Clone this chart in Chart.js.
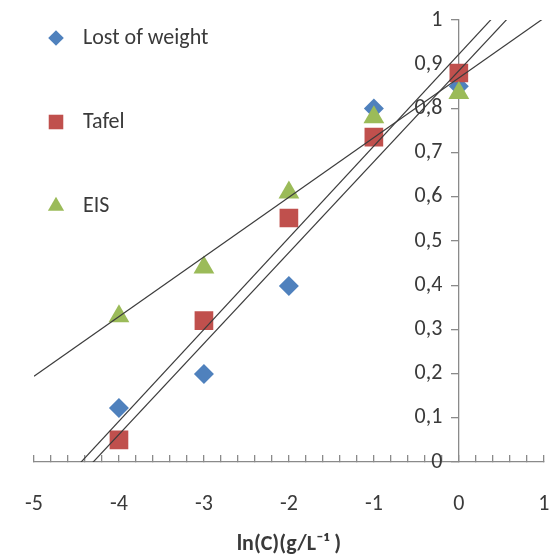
<!DOCTYPE html>
<html>
<head>
<meta charset="utf-8">
<script src="https://cdn.jsdelivr.net/npm/chart.js@4.4.1/dist/chart.umd.min.js"></script>
<style>
html,body{margin:0;padding:0;background:#fff;}
#wrap{width:557px;height:558px;}
</style>
</head>
<body>
<div id="wrap"><canvas id="inhibChart"></canvas></div>
<script>
// values
const lnC = [-4, -3, -2, -1, 0];
const lostOfWeight = [0.122, 0.199, 0.398, 0.80, 0.85];
const tafel = [0.05, 0.32, 0.552, 0.735, 0.88];
const eis = [0.33, 0.44, 0.61, 0.78, 0.835];

const seriesNames = ['Lost of weight', 'Tafel', 'EIS'];
const xTickLabels = ['-5', '-4', '-3', '-2', '-1', '0', '1'];
const yTickLabels = ['0', '0,1', '0,2', '0,3', '0,4', '0,5', '0,6', '0,7', '0,8', '0,9', '1'];

const FONT = 'Carlito, Lato, sans-serif';
const TEXT = '#3a3a3a';
const AXIS = '#8a8a8a';
// y labels sit left of the axis at x=0, the gap keeps them off the tick marks
const Y_GAP = '\u2002\u2005';

// least squares trend line, like the spreadsheet does
function fit(xs, ys) {
  const n = xs.length;
  const mx = xs.reduce((a, b) => a + b, 0) / n;
  const my = ys.reduce((a, b) => a + b, 0) / n;
  let sxy = 0, sxx = 0;
  for (let i = 0; i < n; i++) {
    sxy += (xs[i] - mx) * (ys[i] - my);
    sxx += (xs[i] - mx) * (xs[i] - mx);
  }
  const b = sxy / sxx;
  const a = my - b * mx;
  // endpoints at the axis limits, the chart area clips the rest
  return [{x: -5, y: a - 5 * b}, {x: 1, y: a + b}];
}

function pts(ys) {
  return lnC.map((x, i) => ({x: x, y: ys[i]}));
}

function trend(ys) {
  return {
    type: 'line',
    isFit: true,
    data: fit(lnC, ys),
    borderColor: '#3c3c3c',
    borderWidth: 1.2,
    pointRadius: 0,
    fill: false,
    order: 0
  };
}

const datasets = [
  {label: seriesNames[0], data: pts(lostOfWeight), pointStyle: 'rectRot', pointRadius: 10,
   backgroundColor: '#4F81BD', borderWidth: 0, order: 3},
  {label: seriesNames[1], data: pts(tafel), pointStyle: 'rect', pointRadius: 13.2,
   backgroundColor: '#C0504D', borderWidth: 0, order: 2},
  {label: seriesNames[2], data: pts(eis), pointStyle: 'triangle', pointRadius: 12,
   backgroundColor: '#9BBB59', borderWidth: 0, order: 1},
  trend(lostOfWeight),
  trend(tafel),
  trend(eis)
];

// legend sitting inside the plot, left top
const insideLegend = {
  id: 'insideLegend',
  afterDatasetsDraw(chart) {
    const ctx = chart.ctx;
    const rows = chart.data.datasets.filter(d => !d.isFit);
    const tops = [38, 122, 206];
    ctx.save();
    rows.forEach((d, i) => {
      const y = tops[i];
      ctx.fillStyle = d.backgroundColor;
      ctx.strokeStyle = d.backgroundColor;
      Chart.helpers.drawPoint(ctx, {pointStyle: d.pointStyle, radius: d.pointRadius * 0.78, rotation: 0, borderWidth: 0}, 56, y);
      ctx.fillStyle = TEXT;
      ctx.font = '22px ' + FONT;
      ctx.textBaseline = 'middle';
      ctx.textAlign = 'left';
      ctx.fillText(d.label, 83, y);
    });
    ctx.restore();
  }
};

new Chart(document.getElementById('inhibChart'), {
  type: 'scatter',
  data: {datasets: datasets},
  plugins: [insideLegend],
  options: {
    responsive: true,
    maintainAspectRatio: false,
    animation: false,
    layout: {padding: {left: 34, right: 11, top: 20, bottom: 0}},
    plugins: {legend: {display: false}, tooltip: {enabled: false}},
    scales: {
      x: {
        type: 'linear',
        position: 'bottom',
        min: -5,
        max: 1,
        border: {color: AXIS, width: 1.3},
        grid: {drawOnChartArea: false, drawTicks: true, tickLength: -7, color: AXIS, lineWidth: 1.3},
        ticks: {
          stepSize: 0.2,
          autoSkip: false,
          maxRotation: 0,
          padding: 0,
          color: TEXT,
          font: {family: FONT, size: 22, lineHeight: 98 / 22},
          callback: function (v) {
            const r = Math.round(v);
            if (Math.abs(v - r) > 1e-6) return '';
            return xTickLabels[r + 5];
          }
        },
        title: {
          display: true,
          text: 'ln(C)(g/L⁻¹ )',
          color: TEXT,
          font: {family: FONT, size: 22, weight: 'bold', lineHeight: 1.2},
          padding: {top: -21.4, bottom: 0}
        }
      },
      y: {
        type: 'linear',
        position: {x: 0},
        min: 0,
        max: 1,
        border: {color: AXIS, width: 1.3},
        grid: {drawOnChartArea: false, drawTicks: true, tickLength: 7, color: AXIS, lineWidth: 1.3},
        ticks: {
          stepSize: 0.1,
          padding: 0,
          color: TEXT,
          font: {family: FONT, size: 22, lineHeight: 1.2},
          callback: function (v) {
            return yTickLabels[Math.round(v * 10)] + Y_GAP;
          }
        }
      }
    }
  }
});
</script>
</body>
</html>
